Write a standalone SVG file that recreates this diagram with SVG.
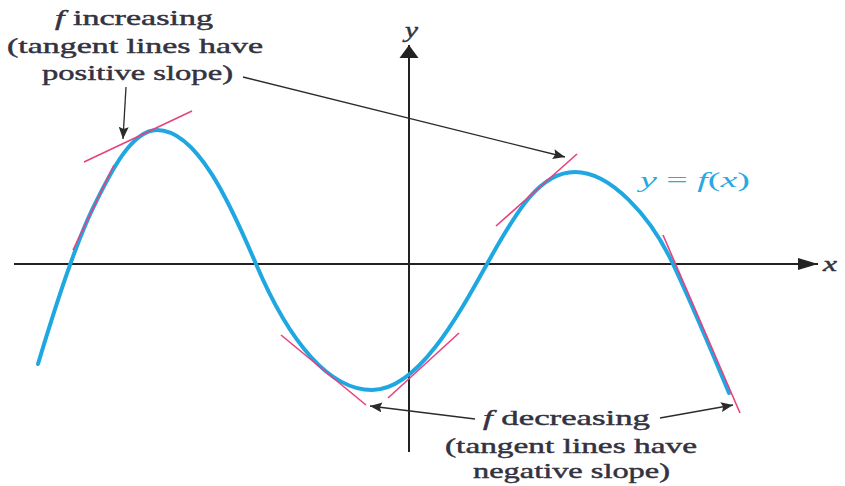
<svg xmlns="http://www.w3.org/2000/svg" width="845" height="486" viewBox="0 0 845 486">
<style>
.lbl{font-family:"Liberation Serif","Times New Roman",serif;font-size:22px;fill:#33333f;stroke:#33333f;stroke-width:0.45px;}
.it{font-style:italic;}
.axis{stroke:#222;stroke-width:2;fill:none;}
.ann{stroke:#2b2b2b;stroke-width:1.3;fill:none;}
.tan{stroke:#e8427e;stroke-width:1.6;fill:none;}
.curve{stroke:#1ea7e1;stroke-width:4;fill:none;stroke-linecap:round;}
.fn{font-family:"Liberation Serif","Times New Roman",serif;font-size:22px;fill:#2aa9e0;}
</style>
<defs>
<marker id="xhead" markerWidth="22" markerHeight="16" refX="20" refY="8" orient="auto" markerUnits="userSpaceOnUse">
<path d="M0,2 L20,8 L0,14 Z" fill="#222"/>
</marker>
<marker id="yhead" markerWidth="14" markerHeight="22" refX="13" refY="11" orient="auto" markerUnits="userSpaceOnUse">
<path d="M0,1.5 L13,11 L0,20.5 Z" fill="#222"/>
</marker>
<marker id="annhead" markerWidth="12" markerHeight="10" refX="12" refY="5" orient="auto" markerUnits="userSpaceOnUse">
<path d="M0,0 L12,5 L0,10 L2,5 Z" fill="#2b2b2b"/>
</marker>
</defs>
<g id="axes">
<line class="axis" x1="14" y1="264" x2="818" y2="264" marker-end="url(#xhead)"/>
<line class="axis" x1="409" y1="452" x2="409" y2="45" marker-end="url(#yhead)"/>
<text class="lbl it" x="405" y="37" textLength="13" lengthAdjust="spacingAndGlyphs">y</text>
<text class="lbl it" x="823" y="271" textLength="14" lengthAdjust="spacingAndGlyphs">x</text>
</g>
<g id="curve">
<path class="curve" d="M38,364 C50,324 73,249 93,208 C111,171 132,130 157,130 C197,130 230,203 256,264 C290,344 330,390 372,390 C417,390 457,318 487,264 C517,210 540,172 575,172 C610,172 650,215 673,264 C689,298 714,357 729,393"/>
<text class="fn" x="640" y="187" textLength="110" lengthAdjust="spacingAndGlyphs"><tspan class="it">y</tspan> = <tspan class="it">f</tspan>(<tspan class="it">x</tspan>)</text>
</g>
<g id="tangents">
<line class="tan" x1="84" y1="162" x2="192" y2="111"/>
<line class="tan" x1="73" y1="250" x2="114" y2="165"/>
<line class="tan" x1="496" y1="226" x2="577" y2="154"/>
<line class="tan" x1="663" y1="235" x2="740" y2="413"/>
<line class="tan" x1="281" y1="335" x2="366" y2="405"/>
<line class="tan" x1="388" y1="398" x2="459" y2="333"/>
</g>
<g id="increasing-label">
<text class="lbl" x="55" y="25" textLength="158" lengthAdjust="spacingAndGlyphs"><tspan class="it">f</tspan> increasing</text>
<text class="lbl" x="7" y="53" textLength="256" lengthAdjust="spacingAndGlyphs">(tangent lines have</text>
<text class="lbl" x="42" y="80" textLength="191" lengthAdjust="spacingAndGlyphs">positive slope)</text>
</g>
<g id="decreasing-label">
<text class="lbl" x="483" y="425" textLength="167" lengthAdjust="spacingAndGlyphs"><tspan class="it">f</tspan> decreasing</text>
<text class="lbl" x="445" y="453" textLength="252" lengthAdjust="spacingAndGlyphs">(tangent lines have</text>
<text class="lbl" x="473" y="478" textLength="197" lengthAdjust="spacingAndGlyphs">negative slope)</text>
</g>
<g id="connectors">
<line class="ann" x1="126" y1="87" x2="123" y2="139" marker-end="url(#annhead)"/>
<line class="ann" x1="243" y1="77" x2="565" y2="157" marker-end="url(#annhead)"/>
<line class="ann" x1="475" y1="419" x2="370" y2="406" marker-end="url(#annhead)"/>
<line class="ann" x1="660" y1="418" x2="733" y2="405" marker-end="url(#annhead)"/>
</g>
</svg>
